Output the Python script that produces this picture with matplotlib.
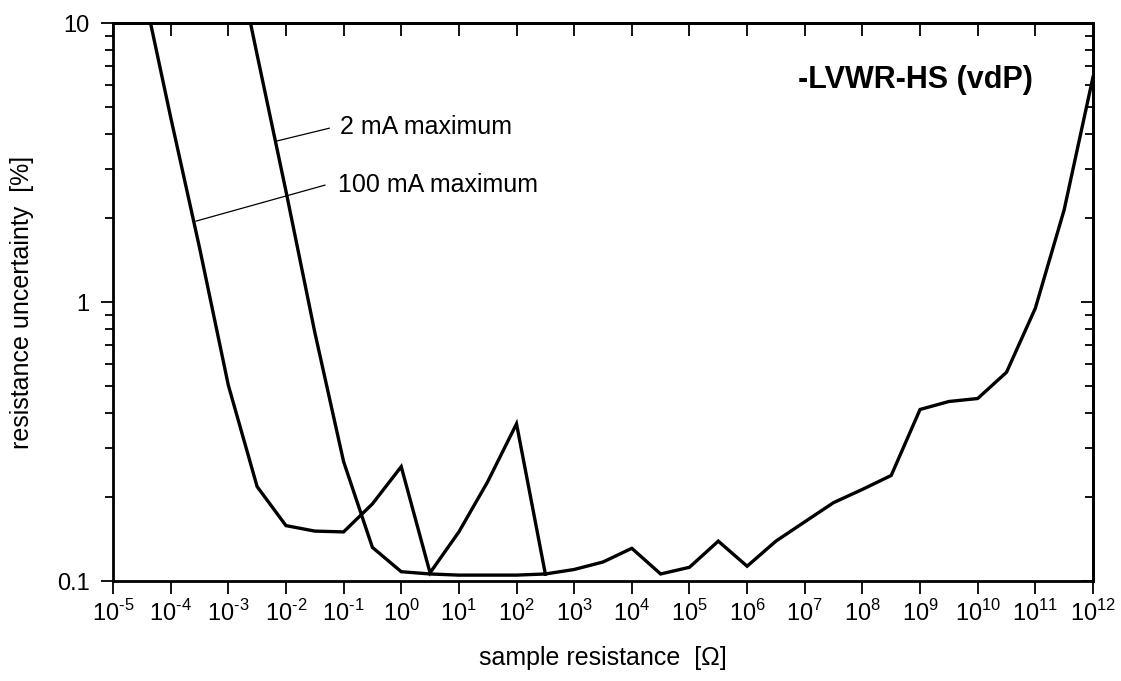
import matplotlib
matplotlib.use('Agg')
import matplotlib.pyplot as plt
import numpy as np
from matplotlib.ticker import FixedLocator, NullLocator, NullFormatter, LogLocator

plt.rcParams['font.family'] = ['Liberation Sans', 'DejaVu Sans']
plt.rcParams['mathtext.fontset'] = 'custom'
plt.rcParams['mathtext.rm'] = 'Liberation Sans'

# sample resistance, as powers of ten (half-decade steps)
exp_100ma = [-4.5, -4.0, -3.5, -3.0, -2.5, -2.0, -1.5, -1.0, -0.5, 0.0, 0.5, 1.0, 1.5, 2.0, 2.5]
unc_100ma = [14.0, 4.6, 1.57, 0.504, 0.218, 0.158, 0.151, 0.150, 0.189, 0.257, 0.107, 0.150, 0.227, 0.366, 0.106]

exp_2ma = [-3.0, -2.5, -2.0, -1.5, -1.0, -0.5, 0.0, 0.5, 1.0, 1.5, 2.0, 2.5]
unc_2ma = [24.0, 7.7, 2.5, 0.78, 0.268, 0.132, 0.108, 0.106, 0.105, 0.105, 0.105, 0.106]

# both current limits share the same curve above 10^2.5 ohm
exp_high = [2.5, 3.0, 3.5, 4.0, 4.5, 5.0, 5.5, 6.0, 6.5, 7.0, 7.5, 8.0, 8.5, 9.0, 9.5, 10.0, 10.5, 11.0, 11.5, 12.0]
unc_high = [0.106, 0.110, 0.117, 0.131, 0.106, 0.112, 0.139, 0.113, 0.139, 0.163, 0.191, 0.213, 0.239, 0.412, 0.44, 0.451, 0.56, 0.95, 2.14, 6.4]

x_decades = list(range(-5, 13))
y_ticks = [0.1, 1, 10]
y_labels = ['0.1', '1', '10']

fig = plt.figure(figsize=(11.21, 6.81), dpi=100)
ax = fig.add_axes([0.1008, 0.1468, 0.8742, 0.8194])

lw = 2.4
ax.plot(10.0 ** np.array(exp_100ma), unc_100ma, color='black', lw=lw, solid_joinstyle='miter')
ax.plot(10.0 ** np.array(exp_2ma), unc_2ma, color='black', lw=lw, solid_joinstyle='miter')
ax.plot(10.0 ** np.array(exp_high), unc_high, color='black', lw=lw, solid_joinstyle='miter')

ax.set_xscale('log')
ax.set_yscale('log')
ax.set_xlim(1e-5, 1e12)
ax.set_ylim(0.1, 10)

ax.xaxis.set_major_locator(FixedLocator([10.0 ** k for k in x_decades]))
ax.xaxis.set_minor_locator(NullLocator())
ax.set_xticklabels(['10$^{\\mathregular{%s}}$' % (str(k).replace('-', '\u2010')) for k in x_decades])
ax.yaxis.set_major_locator(FixedLocator(y_ticks))
ax.yaxis.set_minor_locator(LogLocator(base=10, subs=np.arange(2, 10)))
ax.yaxis.set_minor_formatter(NullFormatter())
ax.set_yticklabels(y_labels)

ax.tick_params(axis='both', which='major', direction='out', length=9, width=1.3,
               labelsize=17, pad=8, colors='black')
ax.tick_params(axis='x', which='major', pad=5)
ax.tick_params(axis='y', which='minor', direction='out', length=6, width=1.3)

# inward ticks on the top and right frame
top = ax.secondary_xaxis('top')
top.xaxis.set_major_locator(FixedLocator([10.0 ** k for k in x_decades]))
top.xaxis.set_minor_locator(NullLocator())
top.tick_params(which='major', direction='in', length=9, width=1.3, labeltop=False)
right = ax.secondary_yaxis('right')
right.yaxis.set_major_locator(FixedLocator(y_ticks))
right.yaxis.set_minor_locator(LogLocator(base=10, subs=np.arange(2, 10)))
right.yaxis.set_minor_formatter(NullFormatter())
right.tick_params(which='major', direction='in', length=9, width=1.3, labelright=False)
right.tick_params(which='minor', direction='in', length=6, width=1.3)
for sp in list(ax.spines.values()) + [top.spines['top'], right.spines['right']]:
    sp.set_linewidth(2.0)

ax.set_xlabel('sample resistance  [\u03a9]', fontsize=18, labelpad=14)
ax.set_ylabel('resistance uncertainty  [%]', fontsize=18, labelpad=16)

ax.text(0.939, 0.898, '-LVWR-HS (vdP)', transform=ax.transAxes, ha='right', va='center',
        fontsize=22, fontweight='bold')

# labels with leader lines
ax.plot([10 ** -2.16, 10 ** -1.248], [10 ** 0.577, 10 ** 0.623], color='black', lw=0.9)
ax.text(10 ** -1.063, 10 ** 0.627, '2 mA maximum', fontsize=18, va='center', ha='left')
ax.plot([10 ** -3.56, 10 ** -1.323], [10 ** 0.290, 10 ** 0.419], color='black', lw=0.9)
ax.text(10 ** -1.097, 10 ** 0.419, '100 mA maximum', fontsize=18, va='center', ha='left')

fig.savefig('out.png', dpi=100)
